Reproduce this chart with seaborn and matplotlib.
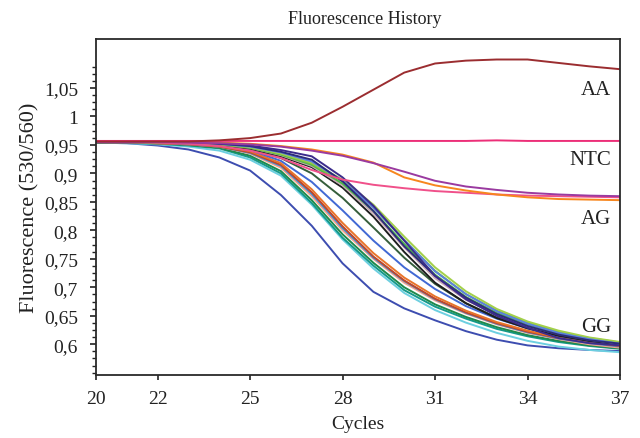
import numpy as np
import pandas as pd
import matplotlib
matplotlib.use("Agg")
import matplotlib.pyplot as plt
import seaborn as sns
from matplotlib.ticker import FixedLocator

cycles = list(range(20, 38))

aa_curve = [.956, .956, .956, .956, .958, .962, .970, .989, 1.017, 1.047, 1.077, 1.093, 1.098, 1.100, 1.100, 1.094, 1.088, 1.083]
ntc_curve = [.957, .957, .957, .957, .957, .957, .957, .957, .957, .957, .957, .957, .957, .958, .957, .957, .957, .957]

ag_pink = [.955, .955, .954, .952, .948, .940, .927, .906, .889, .880, .874, .869, .866, .863, .861, .860, .859, .858]
ag_purple = [.955, .955, .955, .954, .953, .951, .947, .940, .931, .918, .903, .887, .877, .871, .866, .863, .861, .860]
ag_orange = [.955, .955, .955, .955, .954, .952, .948, .942, .933, .919, .893, .879, .870, .863, .858, .855, .854, .853]

gg_blue = [.954, .953, .949, .942, .928, .905, .862, .808, .742, .692, .663, .642, .623, .608, .598, .593, .590, .588]
gg_cyan = [.954, .953, .951, .947, .940, .924, .896, .845, .784, .733, .690, .660, .638, .620, .606, .596, .590, .586]
gg_teal = [.954, .954, .952, .949, .944, .928, .900, .848, .787, .738, .695, .666, .645, .627, .614, .604, .597, .592]
gg_green = [.954, .954, .953, .950, .945, .931, .904, .853, .793, .743, .700, .670, .648, .630, .616, .606, .598, .593]
gg_salmon = [.955, .954, .953, .951, .947, .935, .910, .860, .800, .750, .708, .677, .654, .635, .620, .609, .600, .594]
gg_sky = [.955, .954, .953, .951, .947, .936, .913, .864, .804, .752, .711, .679, .655, .636, .621, .610, .602, .596]
gg_brown = [.955, .954, .953, .951, .947, .937, .915, .867, .807, .754, .712, .680, .656, .637, .622, .611, .603, .597]
gg_orange = [.955, .954, .953, .952, .948, .939, .918, .872, .813, .760, .717, .684, .659, .639, .624, .612, .604, .598]
gg_blue2 = [.955, .954, .954, .952, .949, .941, .922, .885, .835, .782, .735, .697, .667, .645, .628, .615, .606, .599]
gg_dkgreen = [.955, .955, .954, .953, .950, .943, .927, .900, .857, .805, .752, .706, .672, .647, .629, .616, .606, .599]
gg_black = [.955, .955, .954, .953, .950, .944, .930, .911, .875, .824, .762, .708, .672, .646, .628, .615, .606, .600]
gg_gray = [.955, .955, .954, .953, .951, .945, .932, .913, .879, .830, .770, .716, .678, .651, .632, .618, .608, .601]
gg_green2 = [.955, .955, .954, .953, .951, .945, .933, .915, .882, .834, .776, .722, .683, .655, .635, .620, .609, .602]
gg_lime = [.955, .955, .954, .953, .951, .946, .934, .917, .886, .840, .783, .729, .688, .659, .638, .622, .611, .603]
gg_olive = [.955, .955, .955, .953, .952, .946, .935, .919, .889, .845, .789, .735, .693, .662, .640, .624, .612, .604]
gg_cornflower = [.955, .955, .955, .954, .952, .947, .937, .921, .887, .840, .783, .728, .688, .658, .636, .620, .609, .601]
gg_navy2 = [.955, .955, .955, .954, .952, .948, .938, .924, .886, .834, .772, .720, .682, .653, .632, .617, .607, .601]
gg_navy = [.955, .955, .955, .954, .953, .949, .941, .930, .893, .843, .782, .720, .679, .650, .629, .611, .602, .598]

series = {
    "gg_blue": (gg_blue, "#3d4db0"),
    "gg_cyan": (gg_cyan, "#6ccfe0"),
    "gg_teal": (gg_teal, "#14998a"),
    "gg_green": (gg_green, "#1f8a4c"),
    "gg_salmon": (gg_salmon, "#f6a189"),
    "gg_sky": (gg_sky, "#3a8fd9"),
    "gg_brown": (gg_brown, "#c0462a"),
    "gg_orange": (gg_orange, "#e8742a"),
    "gg_blue2": (gg_blue2, "#4169d4"),
    "gg_dkgreen": (gg_dkgreen, "#355e3b"),
    "gg_black": (gg_black, "#1e1e1e"),
    "gg_gray": (gg_gray, "#c9a9b5"),
    "gg_green2": (gg_green2, "#4db848"),
    "gg_lime": (gg_lime, "#7cc242"),
    "gg_olive": (gg_olive, "#a3d04a"),
    "gg_cornflower": (gg_cornflower, "#5b7fe0"),
    "gg_navy2": (gg_navy2, "#2c2c7a"),
    "gg_navy": (gg_navy, "#3b2c8c"),
    "ag_pink": (ag_pink, "#f0508a"),
    "ag_orange": (ag_orange, "#f7861e"),
    "ag_purple": (ag_purple, "#9a3aa0"),
    "ntc": (ntc_curve, "#ec2f78"),
    "aa": (aa_curve, "#9b2d30"),
}

y_ticks = [0.6, 0.65, 0.7, 0.75, 0.8, 0.85, 0.9, 0.95, 1.0, 1.05]
y_tick_labels = ["0,6", "0,65", "0,7", "0,75", "0,8", "0,85", "0,9", "0,95", "1", "1,05"]
x_ticks = [20, 22, 25, 28, 31, 34, 37]
group_labels = ["AA", "NTC", "AG", "GG"]
group_label_y = [1.048, 0.924, 0.820, 0.632]

rows = []
for name, (vals, _) in series.items():
    for c, v in zip(cycles, vals):
        rows.append({"curve": name, "cycle": c, "value": v})
df = pd.DataFrame(rows)
palette = {name: col for name, (_, col) in series.items()}

sns.set_style("ticks")
plt.rcParams["font.family"] = ["Liberation Serif", "DejaVu Serif"]

fig = plt.figure(figsize=(6.4, 4.39), dpi=100)
ax = fig.add_axes([96 / 640, 1 - 376 / 439, (620 - 96) / 640, (376 - 40) / 439])

sns.lineplot(data=df, x="cycle", y="value", hue="curve", palette=palette,
             hue_order=list(series.keys()), linewidth=1.4, legend=False, ax=ax)

ax.set_xlim(20, 37)
ax.set_ylim(0.546, 1.136)
ax.set_xticks(x_ticks)
ax.set_xticklabels([str(t) for t in x_ticks], fontsize=14)
ax.set_yticks(y_ticks)
ax.set_yticklabels(y_tick_labels, fontsize=14)
minor = [0.55 + 0.0125 * k for k in range(0, 44) if 0.55 + 0.0125 * k <= 1.0876]
ax.yaxis.set_minor_locator(FixedLocator(minor))
ax.tick_params(axis="y", which="major", direction="out", length=4, width=1.2, pad=9, colors="#222222")
ax.tick_params(axis="y", which="minor", direction="out", length=3, width=1.0, color="#222222")
ax.tick_params(axis="x", which="major", direction="out", length=3.5, width=1.2, pad=7, colors="#222222")
for s in ax.spines.values():
    s.set_visible(True)
    s.set_color("#2a2a2a")
    s.set_linewidth(1.3)

ax.set_xlabel("Cycles", fontsize=14, labelpad=6, color="#222222")
ax.set_ylabel("Fluorescence (530/560)", fontsize=16, labelpad=3, color="#222222")
fig.text(365 / 640, 1 - 19 / 439, "Fluorescence History", ha="center", va="center",
         fontsize=13, color="#222222")

for lab, yv in zip(group_labels, group_label_y):
    ax.text(36.72, yv, lab, ha="right", va="center", fontsize=15, color="#222222")

fig.savefig("out.png", dpi=100)
